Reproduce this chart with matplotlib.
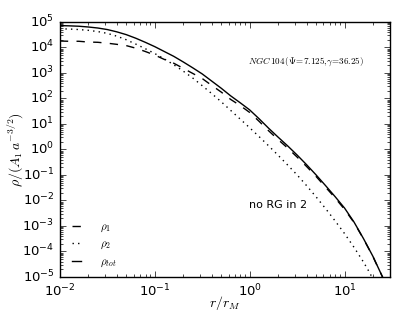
import numpy as np
import matplotlib
matplotlib.use("Agg")
import matplotlib.pyplot as plt

plt.style.use("classic")
plt.rcParams["mathtext.fontset"] = "cm"

# log10(r / r_M) sample positions
log_r = [-2.0, -1.9, -1.8, -1.7, -1.6, -1.5, -1.4, -1.3, -1.2, -1.1, -1.0,
         -0.9, -0.8, -0.7, -0.6, -0.5, -0.4, -0.3, -0.2, -0.1, 0.0, 0.1,
         0.2, 0.3, 0.4, 0.5, 0.6, 0.7, 0.8, 0.9, 1.0, 1.1, 1.2, 1.3, 1.35,
         1.4, 1.45]
# log10 densities
log_rho1 = [4.25, 4.24, 4.24, 4.21, 4.20, 4.165, 4.12, 4.07, 3.97, 3.84, 3.70,
            3.53, 3.38, 3.18, 2.98, 2.78, 2.51, 2.25, 1.96, 1.72, 1.45, 1.10,
            0.73, 0.385, 0.055, -0.30, -0.67, -1.06, -1.48, -1.90, -2.35, -2.87,
            -3.51, -4.21, -4.61, -5.0, -5.6]
log_rho_tot = [4.855, 4.845, 4.83, 4.80, 4.76, 4.70, 4.61, 4.50, 4.36, 4.20, 4.03,
               3.84, 3.65, 3.43, 3.20, 2.96, 2.68, 2.40, 2.10, 1.83, 1.55, 1.20,
               0.83, 0.48, 0.14, -0.22, -0.60, -1.0, -1.42, -1.85, -2.30, -2.85,
               -3.50, -4.20, -4.60, -5.0, -5.6]

log_r2 = [-2.0, -1.9, -1.8, -1.7, -1.6, -1.5, -1.4, -1.3, -1.2, -1.1, -1.0,
          -0.9, -0.8, -0.7, -0.6, -0.5, -0.4, -0.3, -0.2, -0.1, 0.0, 0.1,
          0.2, 0.3, 0.4, 0.5, 0.6, 0.7, 0.8, 0.9, 1.0, 1.1, 1.2, 1.25, 1.3,
          1.35]
log_rho2 = [4.73, 4.72, 4.70, 4.67, 4.62, 4.55, 4.44, 4.30, 4.13, 3.95, 3.76,
            3.55, 3.32, 3.07, 2.80, 2.50, 2.19, 1.87, 1.53, 1.19, 0.85, 0.50,
            0.14, -0.23, -0.61, -1.0, -1.42, -1.86, -2.32, -2.80, -3.30, -3.84,
            -4.42, -4.74, -5.08, -5.6]

r = 10.0 ** np.array(log_r)
r2 = 10.0 ** np.array(log_r2)
rho1 = 10.0 ** np.array(log_rho1)
rho2 = 10.0 ** np.array(log_rho2)
rho_tot = 10.0 ** np.array(log_rho_tot)

fig = plt.figure(figsize=(3.99, 3.22), dpi=100)
ax = fig.add_axes([0.150, 0.140, 0.827, 0.792])

ax.loglog(r, rho1, "k--", lw=1.0, label=r"$\rho_1$")
ax.loglog(r2, rho2, "k:", lw=1.0, label=r"$\rho_2$")
ax.loglog(r, rho_tot, "k-", lw=1.0, label=r"$\rho_{tot}$")

ax.set_xlim(1e-2, 30)
ax.set_ylim(1e-5, 1e5)
ax.tick_params(labelsize=9.5)

ax.set_xlabel(r"$r/r_M$", fontsize=10)
ax.set_ylabel(r"$\rho/(A_1\,a^{-3/2})$", fontsize=10)
ax.xaxis.set_label_coords(0.5, -0.068)
ax.yaxis.set_label_coords(-0.105, 0.5)

ax.text(0.745, 0.843, r"$NGC\,104\,(\Psi\!=\!7.125,\!\gamma\!=\!36.25)$",
        transform=ax.transAxes, ha="center", va="center", fontsize=6.5)
ax.text(0.66, 0.282, "no RG in 2", transform=ax.transAxes,
        ha="center", va="center", fontsize=8)

ax.legend(loc="lower left", frameon=False, fontsize=8, handlelength=1.45,
          handletextpad=1.4, labelspacing=0.45, borderaxespad=0.35)

fig.savefig("out.png", dpi=100)
